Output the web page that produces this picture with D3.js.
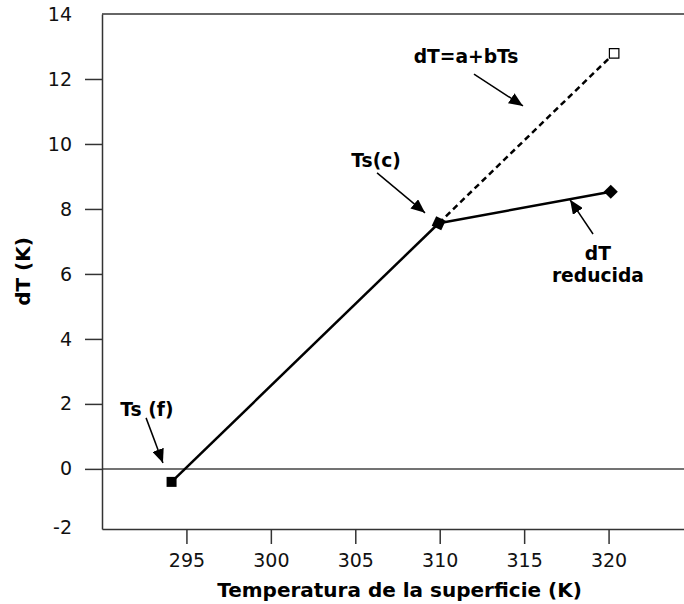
<!DOCTYPE html>
<html>
<head>
<meta charset="utf-8">
<script src="https://cdn.jsdelivr.net/npm/d3@7"></script>
<style>
  html, body { margin: 0; padding: 0; background: #fff; }
  svg { display: block; font-family: "DejaVu Sans", sans-serif; }
</style>
</head>
<body>
<svg id="chart" width="684" height="604"></svg>
<script>
// Surface temperature (K) vs. temperature difference dT (K)
const pointNames = ["Ts(f)", "Ts(c)", "fit end", "reduced end"];
const tsValues   = [294.12, 309.94, 320.33, 320.13];
const dtValues   = [-0.40, 7.56, 12.79, 8.53];

// Segments between points (index pairs) and their dash style
const segFrom   = [0, 1, 1];
const segTo     = [1, 2, 3];
const segDashed = [false, true, false];

const xTicks = [295, 300, 305, 310, 315, 320];
const yTicks = [-2, 0, 2, 4, 6, 8, 10, 12, 14];

// Annotation labels and arrows (in data units)
const noteLines   = [["dT=a+bTs"], ["Ts(c)"], ["Ts (f)"], ["dT", "reducida"]];
const noteTextTs  = [311.56, 306.23, 292.66, 319.37];
const noteTextDt  = [12.71, 9.51, 1.84, 6.64];
const arrowFromTs = [312.03, 306.29, 292.61, 319.08];
const arrowFromDt = [12.15, 9.11, 1.57, 7.23];
const arrowToTs   = [314.93, 309.13, 293.61, 317.72];
const arrowToDt   = [11.17, 7.88, 0.18, 8.28];

const svg = d3.select("#chart");
const mLeft = 102, mRight = 693, mTop = 14, mBottom = 529;

const x = d3.scaleLinear().domain([290, 325]).range([mLeft, mRight]);
const y = d3.scaleLinear().domain([-1.85, 14]).range([mBottom, mTop]).clamp(true);

const axisColor = "#333";

// Arrowhead
svg.append("defs").append("marker")
  .attr("id", "head")
  .attr("markerUnits", "userSpaceOnUse")
  .attr("viewBox", "0 0 14 12")
  .attr("refX", 14).attr("refY", 6)
  .attr("markerWidth", 14).attr("markerHeight", 12)
  .attr("orient", "auto")
  .append("path").attr("d", "M0,0 L14,6 L0,12 Z").attr("fill", "#000");

// Zero reference line
svg.append("line")
  .attr("x1", mLeft).attr("x2", 684)
  .attr("y1", y(0)).attr("y2", y(0))
  .attr("stroke", "#444").attr("stroke-width", 1.5);

// Frame: top edge
svg.append("line").attr("x1", mLeft).attr("x2", mRight).attr("y1", mTop).attr("y2", mTop)
  .attr("stroke", axisColor).attr("stroke-width", 1.5);

// Y axis
const yAxis = svg.append("g")
  .attr("transform", `translate(${mLeft},0)`)
  .call(d3.axisLeft(y).tickValues(yTicks).tickSize(17).tickPadding(13)
    .tickSizeOuter(0).tickFormat(d => String(d)));
yAxis.selectAll("text").attr("font-size", 19).attr("fill", "#111")
  .attr("font-family", "DejaVu Sans");
yAxis.selectAll(".tick line")
  .attr("stroke", axisColor).attr("stroke-width", 1.5)
  .attr("display", d => (d < -1.85 || d >= 14) ? "none" : null);
yAxis.select(".domain").attr("stroke", axisColor).attr("stroke-width", 1.5);
yAxis.selectAll(".tick").filter(d => d < -1.85).select("text").attr("dy", "0.22em");

// X axis
const xAxis = svg.append("g")
  .attr("transform", `translate(0,${mBottom})`)
  .call(d3.axisBottom(x).tickValues(xTicks).tickSize(15).tickPadding(10).tickSizeOuter(0));
xAxis.selectAll("text").attr("font-size", 19).attr("fill", "#111")
  .attr("font-family", "DejaVu Sans");
xAxis.selectAll(".tick line").attr("stroke", axisColor).attr("stroke-width", 1.5);
xAxis.select(".domain").attr("stroke", axisColor).attr("stroke-width", 1.5);

// Axis titles
svg.append("text")
  .attr("x", 399.5).attr("y", 597)
  .attr("text-anchor", "middle").attr("font-weight", "bold").attr("font-size", 20)
  .text("Temperatura de la superficie (K)");
svg.append("text")
  .attr("transform", `translate(30,${(mTop + mBottom) / 2}) rotate(-90)`)
  .attr("text-anchor", "middle").attr("font-weight", "bold").attr("font-size", 20)
  .text("dT (K)");

// Segments
segFrom.forEach((a, i) => {
  const b = segTo[i];
  svg.append("line")
    .attr("x1", x(tsValues[a])).attr("y1", y(dtValues[a]))
    .attr("x2", x(tsValues[b])).attr("y2", y(dtValues[b]))
    .attr("stroke", "#000").attr("stroke-width", 2.5)
    .attr("stroke-dasharray", segDashed[i] ? "6,4" : null);
});

// Markers
svg.append("path").attr("d", d3.symbol().type(d3.symbolSquare).size(100)())
  .attr("transform", `translate(${x(tsValues[0])},${y(dtValues[0])})`)
  .attr("fill", "#000");
svg.append("path").attr("d", d3.symbol().type(d3.symbolSquare).size(110)())
  .attr("transform", `translate(${x(tsValues[1])},${y(dtValues[1])}) rotate(25)`)
  .attr("fill", "#000");
svg.append("path").attr("d", d3.symbol().type(d3.symbolSquare).size(90)())
  .attr("transform", `translate(${x(tsValues[2])},${y(dtValues[2])})`)
  .attr("fill", "#fff").attr("stroke", "#000").attr("stroke-width", 1.2);
svg.append("path").attr("d", d3.symbol().type(d3.symbolSquare).size(100)())
  .attr("transform", `translate(${x(tsValues[3])},${y(dtValues[3])}) rotate(45)`)
  .attr("fill", "#000");

// Annotations
noteLines.forEach((lines, i) => {
  const t = svg.append("text")
    .attr("text-anchor", "middle").attr("font-weight", "bold").attr("font-size", 18.7)
    .attr("x", x(noteTextTs[i])).attr("y", y(noteTextDt[i]));
  lines.forEach((s, k) => {
    t.append("tspan").attr("x", x(noteTextTs[i])).attr("dy", k === 0 ? "0.36em" : "1.2em").text(s);
  });
  svg.append("line")
    .attr("x1", x(arrowFromTs[i])).attr("y1", y(arrowFromDt[i]))
    .attr("x2", x(arrowToTs[i])).attr("y2", y(arrowToDt[i]))
    .attr("stroke", "#000").attr("stroke-width", 1.5)
    .attr("marker-end", "url(#head)");
});
</script>
</body>
</html>
